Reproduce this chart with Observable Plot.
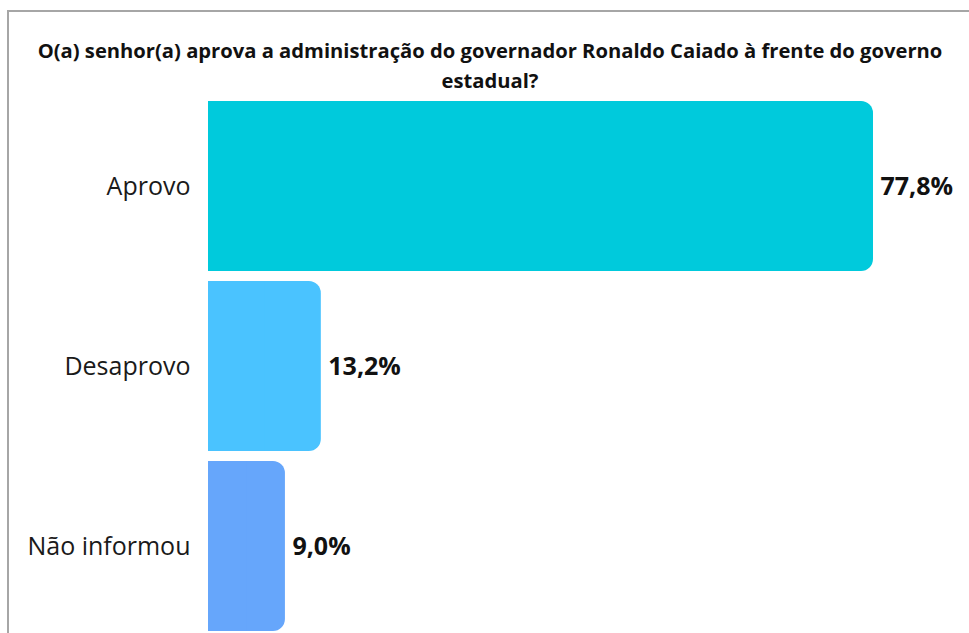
<!DOCTYPE html>
<html>
<head>
<meta charset="utf-8">
<script src="https://cdn.jsdelivr.net/npm/d3@7"></script>
<script src="https://cdn.jsdelivr.net/npm/@observablehq/plot@0.6"></script>
<style>
  html, body { margin: 0; padding: 0; background: #fff; overflow: hidden; }
  #page { position: relative; width: 969px; height: 633px; overflow: hidden; font-family: "Open Sans", sans-serif; }
  #frame { position: absolute; left: 7px; top: 10px; width: 980px; height: 700px; border-top: 2px solid #a6a6a6; border-left: 2px solid #a6a6a6; }
  #title { position: absolute; left: 0px; width: 980px; top: 35px; text-align: center; font-weight: 700; font-size: 20.2px; line-height: 30px; color: #111; white-space: nowrap; }
  #chart { position: absolute; left: 0; top: 0; }
</style>
</head>
<body>
<div id="page">
  <div id="frame"></div>
  <div id="chart"></div>
  <div id="title">O(a) senhor(a) aprova a administração do governador Ronaldo Caiado à frente do governo<br>estadual?</div>
</div>
<script>
const categories = ["Aprovo", "Desaprovo", "Não informou"];
const values = [77.8, 13.2, 9.0];
const valueLabels = ["77,8%", "13,2%", "9,0%"];
const colors = ["#00CADC", "#4AC3FF", "#66A6FB"];

const data = categories.map((c, i) => ({category: c, value: values[i], label: valueLabels[i], color: colors[i]}));

const chart = Plot.plot({
  width: 969,
  height: 633,
  marginLeft: 208,
  marginRight: 96,
  marginTop: 101,
  marginBottom: 2,
  style: {fontFamily: "Open Sans, sans-serif", background: "transparent", overflow: "visible"},
  x: {domain: [0, 77.8], axis: null},
  y: {domain: categories, paddingInner: 10 / 180, paddingOuter: 0, label: null},
  marks: [
    Plot.barX(data, {y: "category", x: "value", fill: "color", rx: 12}),
    Plot.barX(data, {y: "category", x1: 0, x2: d => d.value * 0.5, fill: "color"}),
    Plot.axisY({tickSize: 0, tickPadding: 18, fontSize: 25, label: null, fill: "#1a1a1a"}),
    Plot.text(data, {y: "category", x: "value", text: "label", textAnchor: "start", dx: 7, fontSize: 25, fontWeight: 700, fill: "#111"})
  ]
});
document.getElementById("chart").appendChild(chart);
</script>
</body>
</html>
